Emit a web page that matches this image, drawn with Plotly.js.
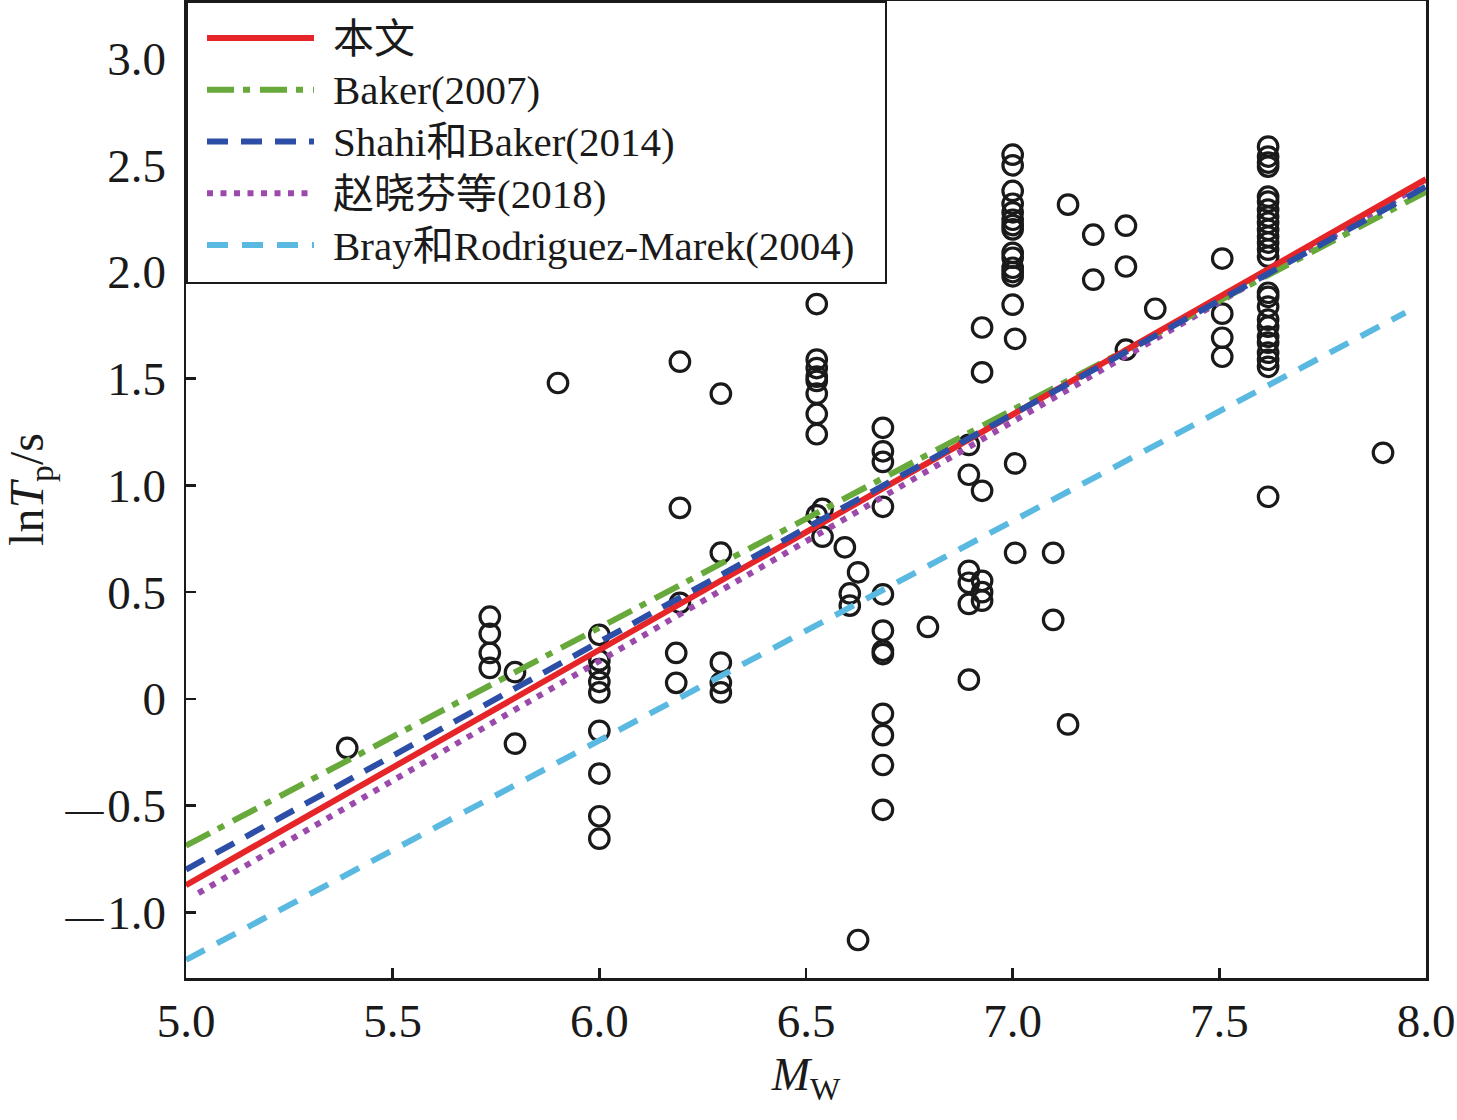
<!DOCTYPE html>
<html><head><meta charset="utf-8">
<script src="https://cdn.plot.ly/plotly-3.0.1.min.js"></script>
<style>html,body{margin:0;padding:0;background:#fff}</style>
</head><body><div id="chart" style="width:1457px;height:1120px"></div>
<script>
// Observed records: magnitude Mw and lnTp (s)
const obsMw = [
  5.39,
  5.90,
  5.735, 5.735, 5.735, 5.735,
  5.796, 5.796,
  6.0, 6.0, 6.0, 6.0, 6.0, 6.0, 6.0, 6.0, 6.0,
  6.186, 6.186,
  6.195, 6.195, 6.195,
  6.294, 6.294, 6.294, 6.294, 6.294,
  6.526, 6.526, 6.526, 6.526, 6.526, 6.526, 6.526, 6.526, 6.526,
  6.54, 6.54,
  6.594,
  6.606, 6.606,
  6.626, 6.626,
  6.686, 6.686, 6.686, 6.686, 6.686, 6.686, 6.686, 6.686, 6.686, 6.686, 6.686, 6.686,
  6.795,
  6.894, 6.894, 6.894, 6.894, 6.894, 6.894,
  6.926, 6.926, 6.926, 6.926, 6.926, 6.926,
  7.0, 7.0, 7.0, 7.0, 7.0, 7.0, 7.0, 7.0, 7.0, 7.0, 7.0, 7.0, 7.0, 7.0,
  7.006, 7.006, 7.006,
  7.098, 7.098,
  7.134, 7.134,
  7.195, 7.195,
  7.274, 7.274, 7.274,
  7.345,
  7.507, 7.507, 7.507, 7.507,
  7.618, 7.618, 7.618, 7.618, 7.618, 7.618, 7.618, 7.618, 7.618, 7.618, 7.618, 7.618, 7.618,
  7.618, 7.618, 7.618, 7.618, 7.618, 7.618, 7.618, 7.618, 7.618, 7.618, 7.618, 7.618,
  7.896
];
const obsLnTp = [
  -0.23,
  1.48,
  0.385, 0.305, 0.215, 0.145,
  0.125, -0.21,
  0.30, 0.18, 0.14, 0.08, 0.03, -0.15, -0.35, -0.55, -0.655,
  0.215, 0.075,
  1.58, 0.895, 0.45,
  1.43, 0.685, 0.17, 0.075, 0.03,
  1.85, 1.59, 1.55, 1.51, 1.49, 1.43, 1.335, 1.24, 0.86,
  0.89, 0.76,
  0.71,
  0.494, 0.437,
  0.593, -1.13,
  1.27, 1.16, 1.11, 0.90, 0.49, 0.32, 0.225, 0.21, -0.07, -0.17, -0.31, -0.52,
  0.337,
  1.19, 1.05, 0.60, 0.544, 0.445, 0.09,
  1.74, 1.53, 0.975, 0.553, 0.50, 0.46,
  2.55, 2.50, 2.38, 2.32, 2.28, 2.245, 2.22, 2.20, 2.09, 2.067, 2.02, 2.00, 1.98, 1.847,
  1.687, 1.103, 0.684,
  0.684, 0.37,
  2.316, -0.12,
  2.175, 1.964,
  2.217, 2.026, 1.636,
  1.828,
  2.063, 1.805, 1.692, 1.603,
  2.588, 2.541, 2.513, 2.494, 2.353, 2.33, 2.292, 2.26, 2.231, 2.198, 2.166, 2.138, 2.105,
  2.072, 1.903, 1.884, 1.838, 1.777, 1.744, 1.697, 1.669, 1.622, 1.589, 1.556, 0.947,
  1.153
];

// Prediction lines (end points)
const seriesNames = ['本文', 'Baker(2007)', 'Shahi和Baker(2014)', '赵晓芬等(2018)', 'Bray和Rodriguez-Marek(2004)'];
const benwenMw = [5.0, 8.0];      const benwenLnTp = [-0.873, 2.435];
const baker07Mw = [5.0, 8.0];     const baker07LnTp = [-0.688, 2.376];
const shahiMw = [5.0, 8.0];       const shahiLnTp = [-0.80, 2.40];
const zhaoMw = [5.03, 8.0];       const zhaoLnTp = [-0.91, 2.42];
const brayMw = [5.0, 7.95];       const brayLnTp = [-1.223, 1.81];

const xTickVals = [5.0, 5.5, 6.0, 6.5, 7.0, 7.5, 8.0];
const xTickText = ['5.0', '5.5', '6.0', '6.5', '7.0', '7.5', '8.0'];
const yTickVals = [-1.0, -0.5, 0, 0.5, 1.0, 1.5, 2.0, 2.5, 3.0];
const dashSpan = '<span style="font-size:38px">—</span>\u200A';
const yTickText = [dashSpan + '1.0', dashSpan + '0.5', '0', '0.5', '1.0', '1.5', '2.0', '2.5', '3.0'];

const serif = '"Liberation Serif", "Times New Roman", "Noto Sans CJK SC", serif';
const ink = '#1a1a1a';
const lbl = s => '<span style="font-size:41px">' + s + '</span>';

const traces = [
  {x: obsMw, y: obsLnTp, type: 'scatter', mode: 'markers', showlegend: false,
   marker: {symbol: 'circle-open', size: 19.5, color: ink, line: {width: 3.2, color: ink}}},
  {x: brayMw, y: brayLnTp, name: lbl(seriesNames[4]), type: 'scatter', mode: 'lines', legendrank: 5,
   line: {color: '#5ab9e0', width: 6, dash: '21px,14px'}},
  {x: zhaoMw, y: zhaoLnTp, name: lbl(seriesNames[3]), type: 'scatter', mode: 'lines', legendrank: 4,
   line: {color: '#9b4aab', width: 6, dash: '6px,7.5px'}},
  {x: baker07Mw, y: baker07LnTp, name: lbl(seriesNames[1]), type: 'scatter', mode: 'lines', legendrank: 2,
   line: {color: '#67a93a', width: 6, dash: '27px,9px,7px,10px'}},
  {x: benwenMw, y: benwenLnTp, name: lbl(seriesNames[0]), type: 'scatter', mode: 'lines', legendrank: 1,
   line: {color: '#e52528', width: 6}},
  {x: shahiMw, y: shahiLnTp, name: lbl(seriesNames[2]), type: 'scatter', mode: 'lines', legendrank: 3,
   line: {color: '#2c4ea6', width: 6, dash: '21px,13px'}}
];

const layout = {
  width: 1457, height: 1120,
  margin: {l: 186, r: 31, t: 1, b: 142, pad: 0},
  paper_bgcolor: '#fff', plot_bgcolor: '#fff',
  font: {family: serif, size: 44, color: ink},
  xaxis: {
    range: [5.0, 8.0], tickmode: 'array', tickvals: xTickVals, ticktext: xTickText,
    ticks: 'inside', ticklen: 10, tickwidth: 2.5, tickcolor: ink,
    showline: true, linewidth: 2.5, linecolor: ink, mirror: true,
    showgrid: false, zeroline: false, ticklabelstandoff: 0,
    tickfont: {family: serif, size: 47, color: ink},
    title: {text: '<i>M</i><sub>W</sub>', font: {family: serif, size: 46, color: ink}, standoff: 12}
  },
  yaxis: {
    range: [-1.308, 3.27], tickmode: 'array', tickvals: yTickVals, ticktext: yTickText,
    ticks: 'inside', ticklen: 10, tickwidth: 2.5, tickcolor: ink,
    showline: true, linewidth: 2.5, linecolor: ink, mirror: true,
    showgrid: false, zeroline: false, ticklabelstandoff: 8,
    tickfont: {family: serif, size: 47, color: ink},
    title: {text: 'ln<i>T</i><sub>p</sub>/s', font: {family: serif, size: 48, color: ink}, standoff: 11}
  },
  legend: {
    x: 0, y: 1, xanchor: 'left', yanchor: 'top',
    bgcolor: '#fff', bordercolor: ink, borderwidth: 2,
    font: {family: serif, size: 37.5, color: ink},
    itemwidth: 135, tracegroupgap: 0, traceorder: 'normal'
  },
  showlegend: true
};

Plotly.newPlot('chart', traces, layout, {displayModeBar: false, staticPlot: true}).then(() => {
  const bg = document.querySelector('.legend .bg');
  if (!bg) return;
  const box = bg.getBoundingClientRect();
  // widen / heighten the legend frame like the reference
  const w = parseFloat(bg.getAttribute('width')), h = parseFloat(bg.getAttribute('height'));
  if (!isNaN(w)) bg.setAttribute('width', w + (886 - box.right));
  if (!isNaN(h)) bg.setAttribute('height', h + (283 - box.bottom));
  // shorten the legend line samples and set their start like the reference
  document.querySelectorAll('.legend .legendlines path').forEach(p => {
    const r = p.getBoundingClientRect();
    const bb = p.getBBox();
    const shift = (box.left + 20) - r.left;
    p.setAttribute('d', 'M' + (bb.x + shift) + ',0h107');
  });
  // nudge legend rows down slightly
  const sb = document.querySelector('.legend .scrollbox');
  if (sb) {
    const t = sb.getAttribute('transform') || '';
    sb.setAttribute('transform', t + ' translate(0,4)');
  }
});
</script>
</body></html>
